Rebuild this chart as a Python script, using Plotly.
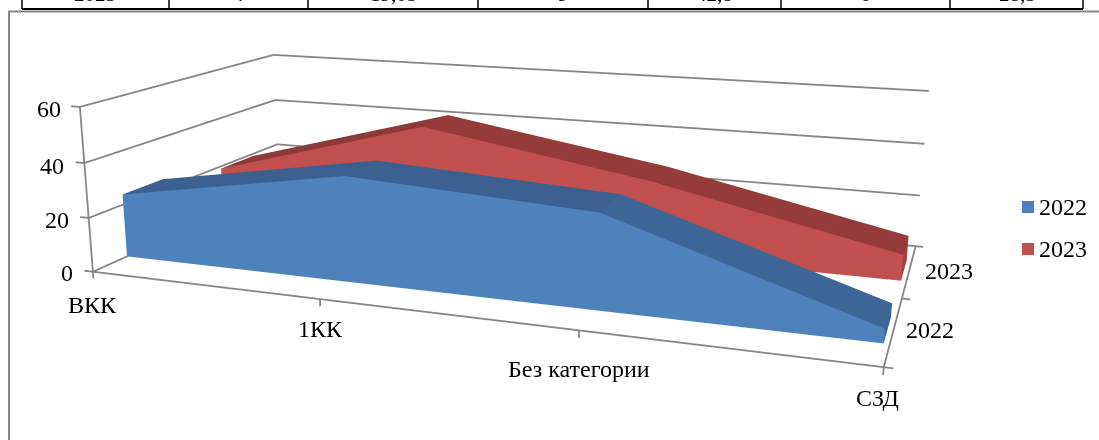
import plotly.graph_objects as go

categories = ["ВКК", "1КК", "Без категории", "СЗД"]
series_names = ["2022", "2023"]
values_2022 = [23.8, 38.1, 33.3, 4.76]
values_2023 = [19.05, 42.8, 28.5, 9.5]
z_ticks = [0, 20, 40, 60]
table_cells = ["2023", "4", "19,05", "9", "42,8", "6", "28,5"]

W, H, TOP = 1099, 1142, 341
FONT = "Liberation Serif"
GRAY = "#868686"
X_END = 3.02    # far end of the category axis
Y_END = 2
Z_TOP = 60
Z_RANGE = [-3, 61]
Y_RANGE = [-0.03, 2.03]
Z_UNIT = 0.218 / 60


def px(x):
    return x / W


def py(y):
    return 1 - (y + TOP) / H


def extrude(name, vals, y0, y1, front, tops, end):
    xs, ys, zs, i, j, k, fc = [], [], [], [], [], [], []
    for c, v in enumerate(vals):
        xs += [c, c, c, c]
        ys += [y0, y0, y1, y1]
        zs += [0, v, 0, v]
    def quad(a, b, c, d, col):
        i.extend([a, a])
        j.extend([b, c])
        k.extend([c, d])
        fc.extend([col, col])
    for c in range(len(vals) - 1):
        n = 4 * c
        quad(n, n + 1, n + 5, n + 4, front)
        quad(n + 1, n + 3, n + 7, n + 5, tops[c])
    n = 4 * (len(vals) - 1)
    quad(n, n + 1, n + 3, n + 2, end)
    return go.Mesh3d(x=xs, y=ys, z=zs, i=i, j=j, k=k, facecolor=fc, color=front, name=name,
                     showlegend=False, flatshading=True, hoverinfo="skip",
                     lighting=dict(ambient=1, diffuse=0, specular=0, fresnel=0, roughness=1))


def seg_trace(segs):
    xs, ys, zs = [], [], []
    for a, b in segs:
        xs += [a[0], b[0], None]
        ys += [a[1], b[1], None]
        zs += [a[2], b[2], None]
    return go.Scatter3d(x=xs, y=ys, z=zs, mode="lines", line=dict(color=GRAY, width=3.6),
                        showlegend=False, hoverinfo="skip")


fig = go.Figure()
fig.add_trace(extrude("2022", values_2022, 0.304, 0.688, "#4F81BD",
                      ["#3C608F", "#3C608F", "#3E6696"], "#3A6496"))
fig.add_trace(extrude("2023", values_2023, 1.304, 1.688, "#C0504D",
                      ["#8E3A38", "#953B39", "#953B39"], "#A3403E"))

segs = []
for zv in z_ticks:
    segs.append(((0, 0, zv), (0, Y_END, zv)))            # left wall grid
    segs.append(((0, Y_END, zv), (X_END, Y_END, zv)))    # back wall grid
    segs.append(((0, 0, zv), (-0.04, 0, zv)))            # value tick
segs.append(((0, 0, 0), (0, 0, Z_TOP)))                  # value axis
segs.append(((0, 0, 0), (X_END, 0, 0)))                  # category axis
segs.append(((X_END, 0, 0), (X_END, Y_END, 0)))          # series axis
for xv in [0, 1, 2, X_END]:
    segs.append(((xv, 0, 0), (xv, 0, -2.5)))
for yv in [0, 1, Y_END]:
    segs.append(((X_END, yv, 0), (X_END + 0.03, yv, 0)))
fig.add_trace(seg_trace(segs))


def ann(x, y, z, text, dx, dy):
    return dict(x=x, y=y, z=z, text=text, showarrow=False, xshift=dx, yshift=dy,
                xanchor="center", yanchor="middle", font=dict(family=FONT, size=24, color="black"))


notes = [
    ann(0, 0, 0, categories[0], 0, -33),
    ann(1, 0, 0, categories[1], 0, -30),
    ann(2, 0, 0, categories[2], 0, -39),
    ann(X_END, 0, 0, categories[3], -6, -31),
    ann(X_END, 0.5, 0, series_names[0], 37, 0),
    ann(X_END, 1.5, 0, series_names[1], 40, 0),
]
for zv, dx, dy in zip(z_ticks, [-26, -32, -32, -31], [-1, -2, -3, -2]):
    notes.append(ann(0, 0, zv, str(zv), dx, dy))

axis = dict(showbackground=False, showspikes=False, zeroline=False, title="", showticklabels=False,
            showline=False, ticks="", showgrid=False)

# the ranges are a little wider than the box so the ticks and edge lines are not clipped;
# the camera keeps looking at the same place, so it is corrected for the moved box centre
z_shift = (30 - sum(Z_RANGE) / 2) * Z_UNIT
fig.update_layout(
    width=W, height=H, margin=dict(l=0, r=0, t=0, b=0, autoexpand=False), paper_bgcolor="white",
    font=dict(family=FONT, size=24, color="black"),
    showlegend=False,
    scene=dict(
        domain=dict(x=[0, 978 / W], y=[0, 1]),
        aspectmode="manual",
        aspectratio=dict(x=3.22 / 3.02, y=0.501 * (Y_RANGE[1] - Y_RANGE[0]) / 2,
                         z=Z_UNIT * (Z_RANGE[1] - Z_RANGE[0])),
        camera=dict(eye=dict(x=0.585, y=-1.687, z=0.417 + z_shift),
                    center=dict(x=-0.0296, y=-0.030, z=-0.0642 + z_shift),
                    up=dict(x=0, y=0, z=1)),
        xaxis=dict(axis, range=[-0.1, 3.12]),
        yaxis=dict(axis, range=Y_RANGE),
        zaxis=dict(axis, range=Z_RANGE),
        annotations=notes,
    ),
)

# table remnant above the chart, the chart frame and the legend
table_x = [22, 169, 308, 478, 648, 781, 950, 1083]
table_cx = [95, 238, 393, 563, 714, 865, 1017]
legend_y = [207, 249]
legend_colors = ["#4F81BD", "#C0504D"]
shapes = [dict(type="line", xref="paper", yref="paper", x0=px(8), x1=px(1099), y0=py(11.5), y1=py(11.5),
               line=dict(color=GRAY, width=2)),
          dict(type="line", xref="paper", yref="paper", x0=px(9), x1=px(9), y0=py(11), y1=py(440),
               line=dict(color=GRAY, width=2)),
          dict(type="line", xref="paper", yref="paper", x0=px(22), x1=px(1083), y0=py(9), y1=py(9),
               line=dict(color="black", width=2))]
for tx in table_x:
    shapes.append(dict(type="line", xref="paper", yref="paper", x0=px(tx), x1=px(tx), y0=py(-10), y1=py(9),
                       line=dict(color="black", width=1.5)))
for ly, col, name in zip(legend_y, legend_colors, series_names):
    shapes.append(dict(type="rect", xref="paper", yref="paper", x0=px(1022), x1=px(1034),
                       y0=py(ly - 6), y1=py(ly + 6), fillcolor=col, line=dict(width=0)))
    fig.add_annotation(xref="paper", yref="paper", x=px(1037), y=py(ly), text=name, showarrow=False,
                       xanchor="left", yanchor="middle", font=dict(family=FONT, size=24, color="black"))
fig.update_layout(shapes=shapes)
for cx, t in zip(table_cx, table_cells):
    fig.add_annotation(xref="paper", yref="paper", x=px(cx), y=py(-6), text=t, showarrow=False,
                       xanchor="center", yanchor="middle", font=dict(family=FONT, size=21, color="black"))

post = ("var d=document.getElementById('{plot_id}');"
        "document.documentElement.style.overflow='hidden';"
        "document.body.style.margin='0';document.body.style.overflow='hidden';"
        "d.style.position='absolute';d.style.left='0';d.style.top='-" + str(TOP) + "px';")
fig.write_html("out.html", post_script=post)
